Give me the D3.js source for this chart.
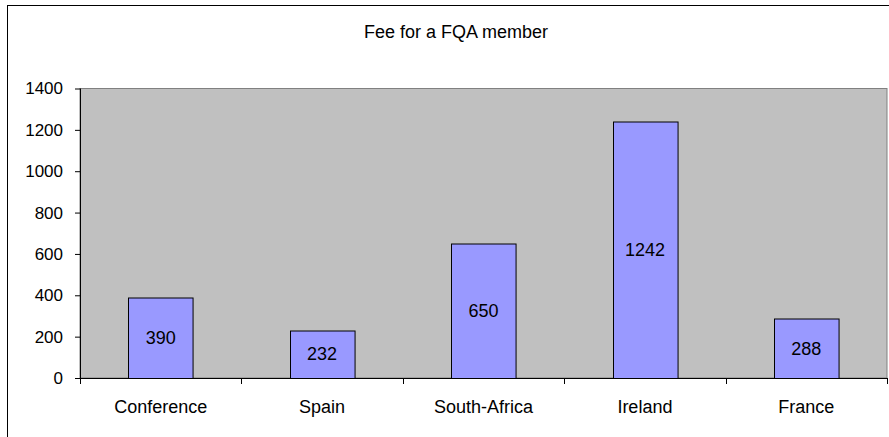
<!DOCTYPE html>
<html>
<head>
<meta charset="utf-8">
<script src="https://cdn.jsdelivr.net/npm/d3@7"></script>
<style>
  body { margin: 0; background: #fff; }
  text { font-family: "Liberation Sans", Arial, sans-serif; fill: #000; }
</style>
</head>
<body>
<div id="chart"></div>
<script>
// chart data
var categories = ["Conference", "Spain", "South-Africa", "Ireland", "France"];
var fees = [390, 232, 650, 1242, 288];
var yTicks = [0, 200, 400, 600, 800, 1000, 1200, 1400];
var chartTitle = "Fee for a FQA member";

var svgWidth = 889, svgHeight = 437;
var margin = {top: 88.5, right: 2, bottom: 59, left: 80};
var width = svgWidth - margin.left - margin.right;
var height = svgHeight - margin.top - margin.bottom;

var svg = d3.select("#chart").append("svg")
    .attr("width", svgWidth)
    .attr("height", svgHeight);

// outer chart border
svg.append("rect")
    .attr("x", 7.5).attr("y", 5.5)
    .attr("width", 950).attr("height", 500)
    .attr("fill", "none").attr("stroke", "#000").attr("stroke-width", 1);

svg.append("text")
    .attr("x", 456).attr("y", 38)
    .attr("text-anchor", "middle")
    .attr("font-size", "18px")
    .text(chartTitle);

var chart = svg.append("g")
    .attr("transform", `translate(${margin.left}, ${margin.top})`);

var x = d3.scaleBand().domain(categories).range([0, width]).paddingInner(0.6).paddingOuter(0.3);
var band = d3.scaleBand().domain(categories).range([0, width]);
var y = d3.scaleLinear().domain([0, 1400]).range([height, 0]);

// plot area
chart.append("rect")
    .attr("width", width).attr("height", height)
    .attr("fill", "#c0c0c0")
    .attr("stroke", "#808080");

// bars
chart.selectAll(".bar")
    .data(fees)
    .enter()
    .append("rect")
    .attr("class", "bar")
    .attr("x", (d, i) => Math.round(x(categories[i])) + 0.5)
    .attr("y", d => Math.round(y(d)) + 0.5)
    .attr("width", x.bandwidth())
    .attr("height", d => y(0) - Math.round(y(d)))
    .attr("fill", "#9999ff")
    .attr("stroke", "#000");

// value labels
chart.selectAll(".lbl")
    .data(fees)
    .enter()
    .append("text")
    .attr("x", (d, i) => x(categories[i]) + x.bandwidth() / 2)
    .attr("y", d => (y(d) + y(0)) / 2)
    .attr("dy", "0.35em")
    .attr("text-anchor", "middle")
    .attr("font-size", "18px")
    .text(d => d);

// y axis
var yAxis = d3.axisLeft(y).tickValues(yTicks).tickFormat(d3.format("d")).tickSize(5).tickPadding(12);
var gy = chart.append("g").call(yAxis);
gy.select(".domain").attr("stroke", "#000").attr("d", `M0.5,0V${height}`);
gy.selectAll("text").attr("font-size", "17px").attr("font-family", null);

// x axis with ticks at category boundaries
var gx = chart.append("g").attr("transform", `translate(0, ${height})`);
gx.append("line")
    .attr("x1", 0).attr("x2", width)
    .attr("y1", 0.5).attr("y2", 0.5)
    .attr("stroke", "#000");
var bounds = categories.map(c => band(c)).concat([width]);
gx.selectAll(".tk")
    .data(bounds)
    .enter()
    .append("line")
    .attr("x1", d => Math.round(d) + 0.5).attr("x2", d => Math.round(d) + 0.5)
    .attr("y1", 0).attr("y2", 6)
    .attr("stroke", "#000");
gx.selectAll(".cat")
    .data(categories)
    .enter()
    .append("text")
    .attr("x", d => band(d) + band.bandwidth() / 2)
    .attr("y", 35)
    .attr("text-anchor", "middle")
    .attr("font-size", "18px")
    .text(d => d);
</script>
</body>
</html>
